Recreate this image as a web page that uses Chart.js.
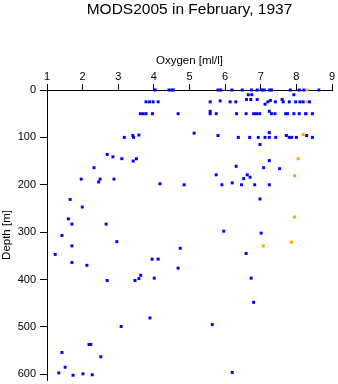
<!DOCTYPE html>
<html>
<head>
<meta charset="utf-8">
<script src="https://cdn.jsdelivr.net/npm/chart.js@4/dist/chart.umd.min.js"></script>
<style>
  html, body { margin: 0; padding: 0; background: #fff; }
  canvas { display: block; }
</style>
</head>
<body>
<canvas id="chart" width="338" height="384"></canvas>
<script>
// station data: oxygen [ml/l] vs depth [m]
const blueOxygen = [
  4.04, 4.42, 4.5, 4.55, 5.8, 5.88, 6.19, 6.48, 6.74, 6.9, 7.04, 7.1, 7.25, 7.3, 7.83, 8.08, 8.21, 8.63,
  6.65, 6.75, 7.93,
  6.6, 6.72, 6.9, 7.6,
  3.78, 3.88, 3.98, 4.12, 5.58, 5.86, 6.14, 6.3, 7.2, 7.27, 7.41, 7.63, 7.8, 7.98, 8.1, 8.19, 8.37,
  7.12, 5.58, 7.24,
  3.62, 3.7, 3.78, 3.96, 4.68, 5.58, 5.75, 6.32, 6.59, 6.8, 6.88, 6.97, 7.3, 7.4, 7.7, 7.75, 7.93, 8.08, 8.26, 8.45,
  3.17, 3.41, 3.43, 3.58, 5.13, 5.8, 7.24, 6.37, 6.69, 6.93, 7.12, 7.24, 7.42, 7.72, 7.8, 7.87, 8.0, 8.29, 8.45,
  2.69, 2.85, 3.1, 3.42, 3.51, 6.98,
  2.32, 1.96, 2.49, 2.45, 2.88, 4.17, 4.85,
  1.65, 1.99, 1.6, 1.7, 2.66,
  7.24, 6.31, 7.08, 7.53, 5.75, 6.62, 6.7, 6.52, 6.2, 5.91, 6.46, 6.83, 7.24, 6.98,
  1.42, 1.7, 2.96, 1.23, 1.7, 2.12, 4.74, 3.95, 4.12, 4.68, 2.69, 3.47, 3.58, 3.63, 4.01, 3.89, 3.08,
  1.42, 2.18, 2.23, 2.51, 1.51, 1.33, 1.73, 2.01, 2.27,
  5.96, 7.01, 6.59, 6.73, 6.8, 5.64, 6.2
];
const blueDepth = [
  0, 0, 0, 0, 0, 0, 0, 0, 0, 0, 0, 0, 0, 0, 0, 0, 0, 0,
  10, 10, 10,
  20, 20, 20, 20,
  25, 25, 25, 25, 25, 23, 25, 25, 25, 22, 25, 25, 25, 25, 25, 25, 25,
  30, 45, 45,
  50, 50, 50, 50, 50, 50, 50, 50, 50, 50, 50, 50, 50, 50, 50, 50, 50, 50, 50, 50,
  100, 96, 100, 95, 91, 96, 90, 100, 100, 100, 100, 100, 100, 96, 100, 100, 100, 96, 100,
  136, 141, 145, 150, 145, 115,
  164, 188, 188, 194, 188, 198, 200,
  231, 247, 272, 283, 283,
  149, 161, 164, 166, 179, 179, 184, 187, 196, 200, 200, 200, 200, 230,
  307, 329, 320, 347, 364, 370, 334, 357, 357, 376, 402, 402, 398, 391, 397, 481, 499,
  554, 537, 537, 563, 585, 597, 602, 599, 601,
  298, 302, 345, 397, 448, 495, 596
];
const orangeOxygen = [8.3, 8.3, 8.3, 8.19, 8.05, 7.95, 7.95, 7.86, 7.07];
const orangeDepth = [0, 25, 50, 94, 145, 181, 268, 321, 329];

const oxygenTicks = [1, 2, 3, 4, 5, 6, 7, 8, 9];
const depthTicks = [0, 100, 200, 300, 400, 500, 600];

const toPoints = (xs, ys) => xs.map((x, i) => ({ x: x, y: ys[i] }));

const font = 'Liberation Sans, Arial, Helvetica, sans-serif';

new Chart(document.getElementById('chart'), {
  type: 'scatter',
  data: {
    datasets: [{
      data: toPoints(blueOxygen, blueDepth),
      backgroundColor: '#0000ff',
      borderWidth: 0,
      pointStyle: 'rect',
      pointRadius: 2.1,
      clip: false
    }, {
      data: toPoints(orangeOxygen, orangeDepth),
      backgroundColor: '#ffa500',
      borderWidth: 0,
      pointStyle: 'rect',
      pointRadius: 2.1,
      clip: false
    }]
  },
  options: {
    responsive: false,
    animation: false,
    layout: { padding: { left: 0, right: 6, top: 0, bottom: 0 } },
    plugins: {
      legend: { display: false },
      tooltip: { enabled: false },
      title: {
        display: true,
        text: 'MODS2005 in February, 1937',
        fullSize: false,
        color: '#000',
        font: { family: font, size: 15.5, weight: 'normal' },
        padding: { top: 0, bottom: 0 }
      }
    },
    scales: {
      x: {
        type: 'linear',
        position: 'top',
        min: 1,
        max: 9,
        afterBuildTicks: s => { s.ticks = oxygenTicks.map(v => ({ value: v })); },
        afterFit: s => { s.height = 71.4; s.paddingLeft = 0; s.paddingRight = 0; },
        ticks: { color: '#000', padding: 0, font: { family: font, size: 11 } },
        grid: { drawOnChartArea: false, tickLength: 6, color: '#000' },
        border: { color: '#000' },
        title: {
          display: true,
          text: 'Oxygen [ml/l]',
          color: '#000',
          font: { family: font, size: 11.5 },
          padding: { top: 35, bottom: 0 }
        }
      },
      y: {
        type: 'linear',
        reverse: true,
        min: 0,
        max: 612,
        afterBuildTicks: s => { s.ticks = depthTicks.map(v => ({ value: v })); },
        afterFit: s => { s.width = 47; s.paddingTop = 0; s.paddingBottom = 0; },
        ticks: { color: '#000', padding: 4, font: { family: font, size: 11 } },
        grid: { drawOnChartArea: false, tickLength: 7, color: '#000' },
        border: { color: '#000' },
        title: {
          display: true,
          text: 'Depth [m]',
          color: '#000',
          font: { family: font, size: 11.5 },
          padding: { top: 0, bottom: 0 }
        }
      }
    }
  }
});
</script>
</body>
</html>
